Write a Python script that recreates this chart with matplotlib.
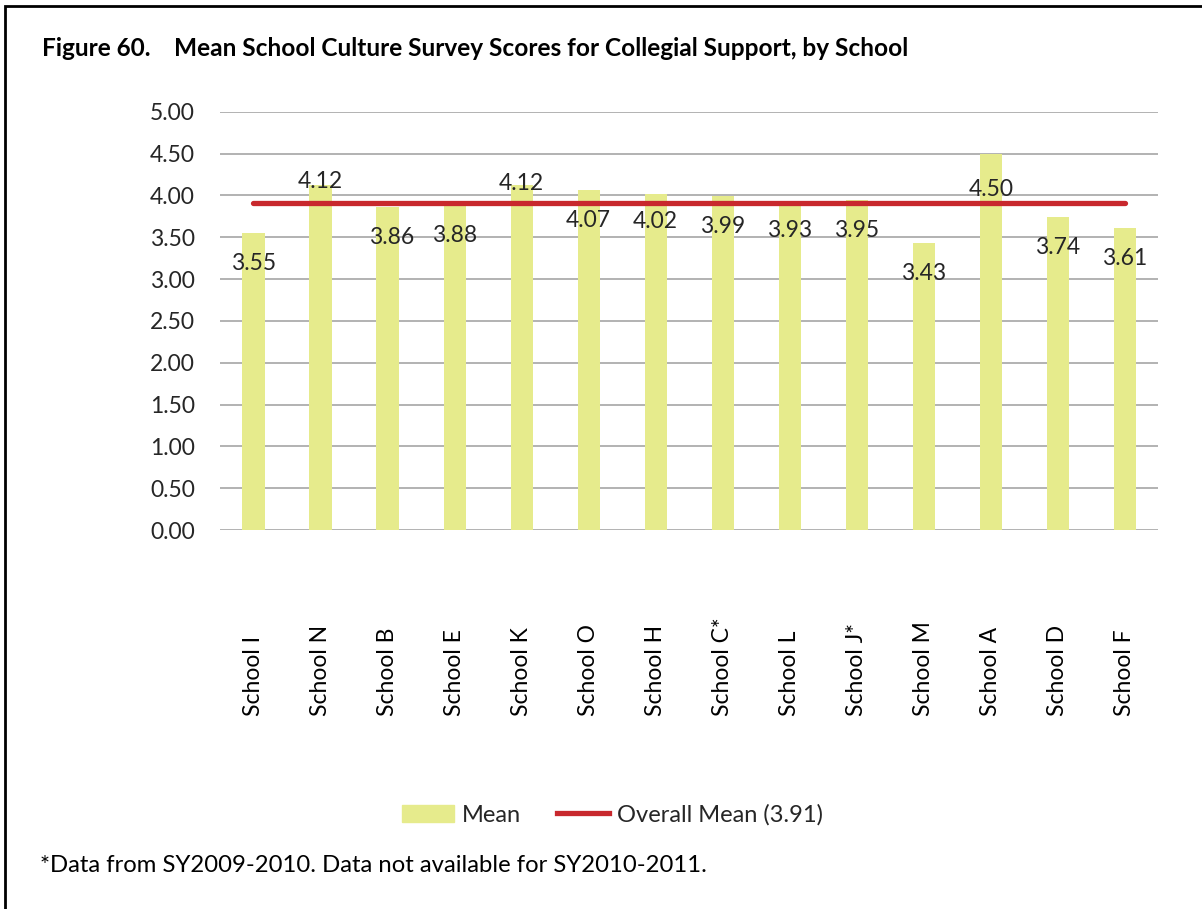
import matplotlib
matplotlib.use("Agg")
from matplotlib import pyplot as plt
from matplotlib.patches import Rectangle, Patch
from matplotlib.lines import Line2D
from matplotlib.transforms import blended_transform_factory

schools = ["School I", "School N", "School B", "School E", "School K", "School O", "School H",
           "School C*", "School L", "School J*", "School M", "School A", "School D", "School F"]
means = [3.55, 4.12, 3.86, 3.88, 4.12, 4.07, 4.02, 3.99, 3.93, 3.95, 3.43, 4.50, 3.74, 3.61]
overall_mean = 3.91
y_ticks = [0.0, 0.5, 1.0, 1.5, 2.0, 2.5, 3.0, 3.5, 4.0, 4.5, 5.0]

# label offsets from bar top, in points (dx, dy) - copied from the excel layout
label_dx = [0, 0, 3, 0, 0, 0, 0, 0, 0, 0, 0, 0, 0, 0]
label_dy = [-22, 3, -22, -22, 1, -22, -20, -22, -21, -22, -22, -26, -22, -22]

bar_color = "#E6EB8C"
line_color = "#C8282D"
grid_color = "#A6A6A6"
text_color = "#262626"

plt.rcParams['font.family'] = ['Lato', 'DejaVu Sans']

fig = plt.figure(figsize=(12.02, 9.09), dpi=100)
ax = fig.add_axes([0.183, 0.4169, 0.7808, 0.4602])

x = list(range(len(schools)))
ax.bar(x, means, width=0.33, color=bar_color, zorder=2)
ax.plot([x[0], x[-1]], [overall_mean, overall_mean], color=line_color, lw=3.8,
        solid_capstyle='round', zorder=3)

for i, v in enumerate(means):
    ax.annotate(f"{v:.2f}", (i, v), xytext=(label_dx[i], label_dy[i]), textcoords='offset points',
                ha='center', va='center', fontsize=16.5, color=text_color, zorder=4)

ax.set_xlim(-0.5, len(schools) - 0.5)
ax.set_ylim(0, 5)
ax.set_yticks(y_ticks)
ax.set_yticklabels([f"{t:.2f}" for t in y_ticks], fontsize=16.5, color=text_color)
ax.tick_params(axis='y', length=0, pad=18)
ax.set_xticks([])
for s in ax.spines.values():
    s.set_visible(False)
ax.yaxis.grid(True, color=grid_color, lw=1.2, zorder=0)
ax.set_axisbelow(True)

# rotated category labels, bottoms lined up
trans = blended_transform_factory(ax.transData, fig.transFigure)
for i, name in enumerate(schools):
    ax.text(i, 1 - 716 / 909, name, rotation=90, ha='center', va='bottom',
            fontsize=16.5, color='black', transform=trans)

fig.text(42 / 1202, 1 - 49 / 909,
         "Figure 60.    Mean School Culture Survey Scores for Collegial Support, by School",
         fontsize=17.6, fontweight='bold', va='center', ha='left')

handles = [Patch(color=bar_color), Line2D([0], [0], color=line_color, lw=3.8)]
fig.legend(handles, ["Mean", "Overall Mean (3.91)"], loc='center',
           bbox_to_anchor=(0.5096, 1 - 815 / 909), ncol=2, frameon=False,
           fontsize=17, handlelength=2.2, handletextpad=0.35, columnspacing=1.5)
for t in fig.legends[0].get_texts():
    t.set_color(text_color)

fig.text(40 / 1202, 1 - 865 / 909, "*Data from SY2009-2010. Data not available for SY2010-2011.",
         fontsize=17.2, va='center', ha='left')

# page frame (right and bottom edges are cut off in the original)
fig.patches.append(Rectangle((5 / 1202, -0.1), 2, 1.1 - 6 / 909, transform=fig.transFigure,
                             fill=False, edgecolor='black', lw=2, figure=fig))

plt.savefig("out.png", dpi=100)
